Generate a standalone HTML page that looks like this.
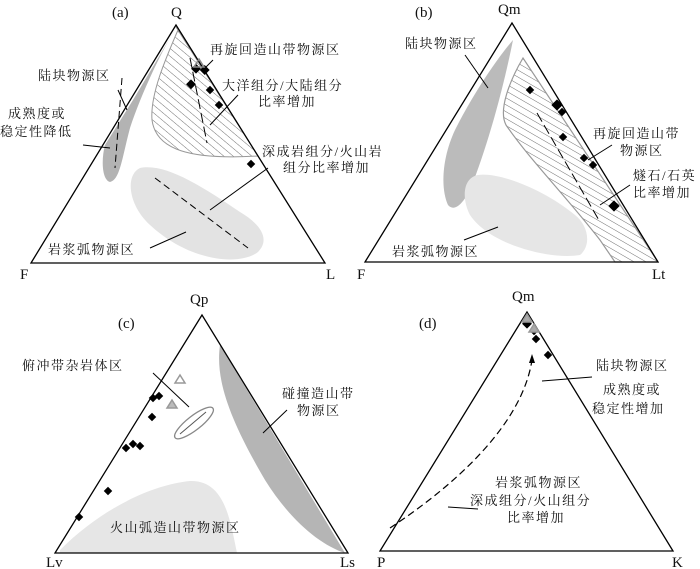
<!DOCTYPE html>
<html><head><meta charset="utf-8"><style>
body{margin:0;background:#fff}
svg{display:block}
text{font-family:"Liberation Serif","Noto Serif CJK SC","Noto Sans CJK SC",serif;fill:#111}
.c{font-size:13px;letter-spacing:1.5px}
.l{font-size:15px}
</style></head><body>
<svg width="700" height="569" viewBox="0 0 700 569" xmlns="http://www.w3.org/2000/svg">
<defs>
<pattern id="h1" width="6" height="6" patternUnits="userSpaceOnUse" patternTransform="rotate(-50)"><line x1="0" y1="0" x2="0" y2="6" stroke="#333" stroke-width="0.7"/></pattern>
<pattern id="h2" width="6" height="6" patternUnits="userSpaceOnUse" patternTransform="rotate(-60)"><line x1="0" y1="0" x2="0" y2="6" stroke="#333" stroke-width="0.7"/></pattern>
</defs>
<!-- Panel a -->
<path d="M176,28 C162,50 142,92 130,128 C122,158 120,180 110,182 C102,180 101,160 105,145 L133,100 Z" fill="#b3b3b3"/>
<path d="M178,30 C165,60 150,95 152,120 C156,150 190,160 258,156 L176,27Z" fill="url(#h1)" stroke="#999" stroke-width="1"/>
<path d="M140,168 C125,175 128,205 150,225 C190,262 240,266 258,252 C270,240 262,225 240,212 C200,185 165,163 140,168Z" fill="#e3e3e3"/>
<path d="M176,25 L31,263 L325,263 Z" fill="none" stroke="#000" stroke-width="1.3"/>
<g stroke="#000" stroke-width="1" fill="none">
<line x1="122" y1="78" x2="115" y2="168" stroke-dasharray="7,4"/>
<line x1="155" y1="178" x2="248" y2="248" stroke-dasharray="7,4"/>
<line x1="190" y1="58" x2="207" y2="143" stroke-dasharray="10,4"/>
<line x1="118" y1="90" x2="127" y2="110"/>
<line x1="83" y1="145" x2="110" y2="148"/>
<line x1="210" y1="210" x2="268" y2="168"/>
<line x1="150" y1="248" x2="186" y2="232"/>
<line x1="203" y1="70" x2="213" y2="60"/>
<line x1="210" y1="125" x2="238" y2="95"/>
</g>
<g fill="#000"><rect x="193" y="65" width="7" height="7" transform="rotate(45 196 68)"/><rect x="201" y="66" width="7" height="7" transform="rotate(45 204 70)"/><rect x="187" y="81" width="7" height="7" transform="rotate(45 191 85)"/><rect x="207" y="87" width="6" height="6" transform="rotate(45 210 90)"/><rect x="216" y="102" width="6" height="6" transform="rotate(45 219 105)"/><rect x="248" y="161" width="6" height="6" transform="rotate(45 251 164)"/></g>
<path d="M199,59 l-5,8 h10z" fill="none" stroke="#888" stroke-width="1.5"/>
<text x="112" y="17" class="l">(a)</text><text x="171" y="17" class="l">Q</text>
<text x="20" y="279" class="l">F</text><text x="326" y="279" class="l">L</text>
<text x="210" y="54" class="c">再旋回造山带物源区</text>
<text x="222" y="90" class="c">大洋组分/大陆组分</text>
<text x="258" y="106" class="c">比率增加</text>
<text x="38" y="80" class="c">陆块物源区</text>
<text x="8" y="118" class="c">成熟度或</text>
<text x="0" y="136" class="c">稳定性降低</text>
<text x="262" y="156" class="c">深成岩组分/火山岩</text>
<text x="283" y="172" class="c">组分比率增加</text>
<text x="48" y="254" class="c">岩浆弧物源区</text>
<!-- Panel b -->
<path d="M513,40 C505,80 490,140 470,190 C462,205 454,212 448,205 C441,190 441,160 455,130 C475,90 500,55 513,40Z" fill="#bbb"/>
<path d="M523,58 C510,80 498,110 506,125 C530,160 565,195 600,240 L615,262 L658,262 Z" fill="url(#h2)" stroke="#999" stroke-width="1.2"/>
<path d="M478,175 C462,178 462,200 470,215 C490,245 550,260 580,255 C592,245 588,225 575,215 C545,190 500,172 478,175Z" fill="#e6e6e6"/>
<path d="M512,23 L365,262 L658,262 Z" fill="none" stroke="#000" stroke-width="1.3"/>
<g stroke="#000" stroke-width="1" fill="none">
<line x1="537" y1="113" x2="600" y2="222" stroke-dasharray="10,4"/>
<line x1="465" y1="55" x2="488" y2="88"/>
<line x1="588" y1="160" x2="612" y2="145"/>
<line x1="600" y1="205" x2="630" y2="185"/>
<line x1="464" y1="240" x2="498" y2="227"/>
</g>
<g fill="#000"><rect x="527" y="87" width="6" height="6" transform="rotate(45 530 90)"/><rect x="553" y="101" width="8" height="8" transform="rotate(45 557 105)"/><rect x="559" y="109" width="6" height="6" transform="rotate(45 562 112)"/><rect x="560" y="134" width="6" height="6" transform="rotate(45 563 137)"/><rect x="581" y="155" width="6" height="6" transform="rotate(45 584 158)"/><rect x="590" y="162" width="6" height="6" transform="rotate(45 593 165)"/><rect x="610" y="202" width="8" height="8" transform="rotate(45 614 206)"/></g>
<text x="415" y="17" class="l">(b)</text><text x="498" y="14" class="l">Qm</text>
<text x="357" y="279" class="l">F</text><text x="652" y="279" class="l">Lt</text>
<text x="405" y="48" class="c">陆块物源区</text>
<text x="593" y="138" class="c">再旋回造山带</text>
<text x="620" y="155" class="c">物源区</text>
<text x="633" y="180" class="c">燧石/石英</text>
<text x="633" y="197" class="c">比率增加</text>
<text x="392" y="256" class="c">岩浆弧物源区</text>
<!-- Panel c -->
<path d="M220,345 C215,380 230,420 265,480 C290,520 320,545 345,553 L202,315 Z" fill="#b5b5b5"/>
<path d="M202,315 L220,345 L218,348 Z" fill="#fff"/>
<path d="M60,550 C100,510 150,485 190,481 C225,480 230,520 237,553 L60,553Z" fill="#e6e6e6"/>
<path d="M202,315 L55,553 L348,553 Z" fill="none" stroke="#000" stroke-width="1.3"/>
<ellipse cx="194" cy="423" rx="24" ry="7" transform="rotate(-38 194 423)" fill="none" stroke="#888" stroke-width="1.3"/>
<line x1="180" y1="434" x2="206" y2="412" stroke="#555"/>
<g stroke="#000" stroke-width="1"><line x1="153" y1="373" x2="189" y2="407"/><line x1="263" y1="433" x2="287" y2="410"/></g>
<g fill="#000"><rect x="150" y="395" width="6" height="6" transform="rotate(45 153 398)"/><rect x="156" y="393" width="6" height="6" transform="rotate(45 159 396)"/><rect x="149" y="414" width="6" height="6" transform="rotate(45 152 417)"/><rect x="123" y="445" width="6" height="6" transform="rotate(45 126 448)"/><rect x="130" y="441" width="6" height="6" transform="rotate(45 133 444)"/><rect x="137" y="443" width="6" height="6" transform="rotate(45 140 446)"/><rect x="105" y="488" width="6" height="6" transform="rotate(45 108 491)"/><rect x="76" y="514" width="6" height="6" transform="rotate(45 79 517)"/></g>
<path d="M180,375 l-5,8 h10z" fill="none" stroke="#999" stroke-width="1.5"/>
<path d="M172,400 l-5,8 h10z" fill="#bbb" stroke="#999" stroke-width="1.5"/>
<text x="118" y="328" class="l">(c)</text><text x="190" y="304" class="l">Qp</text>
<text x="46" y="567" class="l">Lv</text><text x="340" y="567" class="l">Ls</text>
<text x="22" y="370" class="c">俯冲带杂岩体区</text>
<text x="282" y="398" class="c">碰撞造山带</text>
<text x="297" y="415" class="c">物源区</text>
<text x="110" y="532" class="c">火山弧造山带物源区</text>
<!-- Panel d -->
<path d="M527,312 L380,551 L673,551 Z" fill="none" stroke="#000" stroke-width="1.3"/>
<path d="M390,528 C455,485 522,425 532,360" fill="none" stroke="#000" stroke-width="1.2" stroke-dasharray="7,4"/>
<path d="M532,354 l-3,9 h6z" fill="#000"/>
<g stroke="#000" stroke-width="1"><line x1="542" y1="381" x2="592" y2="377"/><line x1="448" y1="507" x2="478" y2="509"/></g>
<g fill="#000"><rect x="524" y="320" width="7" height="7" transform="rotate(45 527 323)"/><rect x="531" y="328" width="6" height="6" transform="rotate(45 534 331)"/><rect x="533" y="336" width="6" height="6" transform="rotate(45 536 339)"/><rect x="545" y="352" width="6" height="6" transform="rotate(45 548 355)"/></g>
<path d="M527,314 l-5,8 h10z" fill="#aaa" stroke="#999" stroke-width="1.5"/>
<path d="M534,324 l-5,8 h10z" fill="#aaa" stroke="#999" stroke-width="1.5"/>
<text x="419" y="328" class="l">(d)</text><text x="512" y="301" class="l">Qm</text>
<text x="377" y="567" class="l">P</text><text x="672" y="567" class="l">K</text>
<text x="596" y="370" class="c">陆块物源区</text>
<text x="603" y="394" class="c">成熟度或</text>
<text x="592" y="413" class="c">稳定性增加</text>
<text x="495" y="487" class="c">岩浆弧物源区</text>
<text x="470" y="505" class="c">深成组分/火山组分</text>
<text x="507" y="522" class="c">比率增加</text>
</svg>
</body></html>
